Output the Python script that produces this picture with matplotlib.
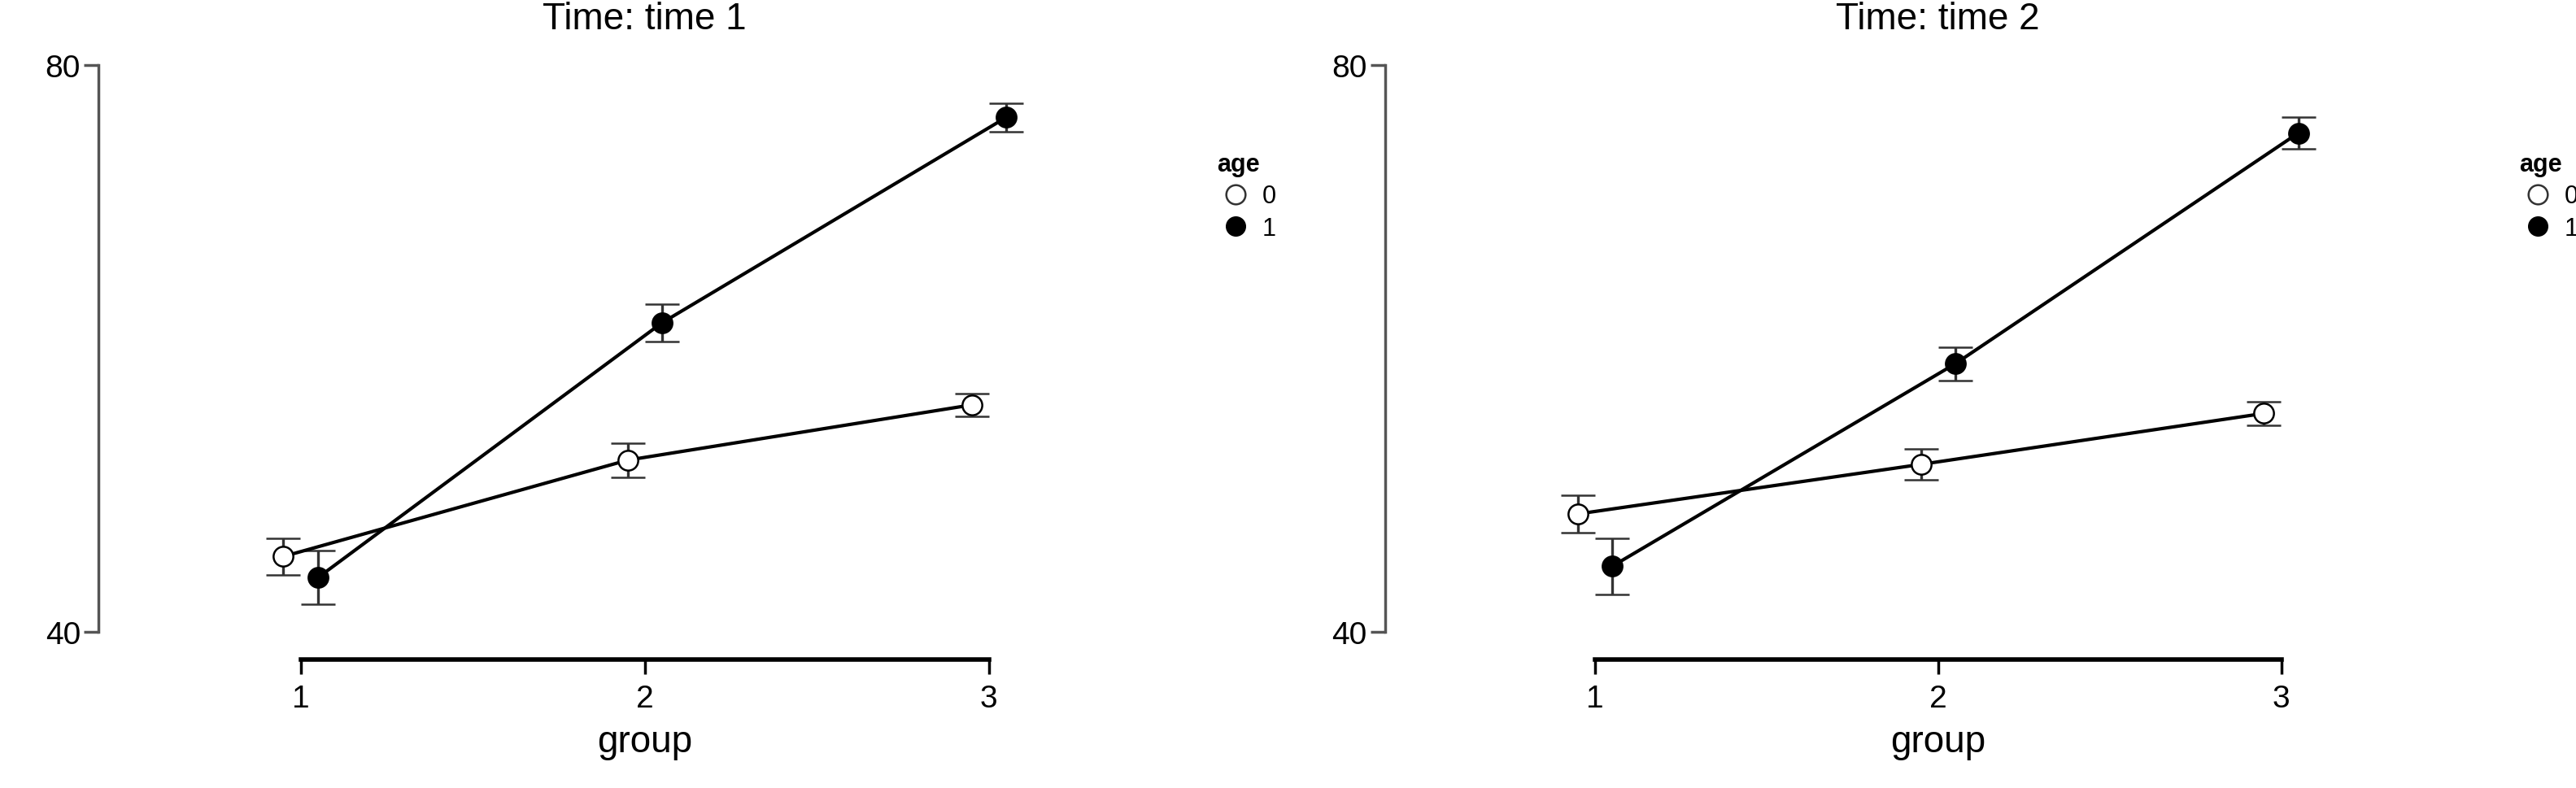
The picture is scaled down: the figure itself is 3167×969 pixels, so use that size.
import matplotlib
matplotlib.use("Agg")
from matplotlib import pyplot as plt
from matplotlib.lines import Line2D

plt.rcParams['font.family'] = ['Liberation Sans', 'DejaVu Sans']

groups = [1, 2, 3]
titles = ["Time: time 1", "Time: time 2"]

# means and error half-widths, per time panel
age0_mean = [[45.3, 52.1, 56.0], [48.3, 51.8, 55.4]]
age0_err = [[1.3, 1.2, 0.8], [1.3, 1.1, 0.85]]
age1_mean = [[43.8, 61.8, 76.3], [44.6, 58.9, 75.2]]
age1_err = [[1.9, 1.3, 1.0], [2.0, 1.2, 1.1]]

dodge = 0.05

fig = plt.figure(figsize=(31.67, 9.70), dpi=100)
axes_pos = [[0.0383, 0.1625, 0.3603, 0.763], [0.5376, 0.1625, 0.3626, 0.763]]
xlims = [(0.413, 3.11), (0.388, 3.11)]
legend_pos = [(0.4725, 0.806), (0.978, 0.806)]

for k in range(2):
    ax = fig.add_axes(axes_pos[k])
    x0 = [g - dodge for g in groups]
    x1 = [g + dodge for g in groups]
    ax.errorbar(x0, age0_mean[k], yerr=age0_err[k], color='black', lw=3,
                ecolor='#333333', elinewidth=2.4, capsize=15, capthick=2.4,
                marker='o', ms=17.5, mfc='white', mec='black', mew=1.8, zorder=3)
    ax.errorbar(x1, age1_mean[k], yerr=age1_err[k], color='black', lw=3,
                ecolor='#333333', elinewidth=2.4, capsize=15, capthick=2.4,
                marker='o', ms=17.5, mfc='black', mec='black', mew=1.8, zorder=3)
    ax.set_xlim(*xlims[k])
    ax.set_ylim(38.0, 80.5)
    ax.set_xticks(groups)
    ax.set_yticks([40, 80])
    for s in ['top', 'right']:
        ax.spines[s].set_visible(False)
    ax.spines['left'].set_bounds(40, 80)
    ax.spines['left'].set_color('#555555')
    ax.spines['left'].set_linewidth(2.5)
    ax.spines['bottom'].set_bounds(1, 3)
    ax.spines['bottom'].set_linewidth(4)
    ax.tick_params(axis='y', length=13, width=2.5, color='#555555', labelsize=28, pad=3)
    ax.tick_params(axis='x', length=13, width=2.5, labelsize=28, pad=8)

    # title and x label sit over the middle of the group axis
    mid = (2 - xlims[k][0]) / (xlims[k][1] - xlims[k][0])
    ax.set_xlabel("group", fontsize=33, labelpad=10)
    ax.xaxis.label.set_x(mid)
    ax.set_title(titles[k], fontsize=33, pad=26, x=mid)

    handles = [
        Line2D([], [], ls='none', marker='o', ms=17, mfc='white', mec='#333333', mew=1.8, label='0'),
        Line2D([], [], ls='none', marker='o', ms=17, mfc='black', mec='black', label='1'),
    ]
    leg = fig.legend(handles=handles, title='age', loc='upper left',
                     bbox_to_anchor=legend_pos[k], frameon=False, fontsize=22,
                     title_fontproperties={'weight': 'bold', 'size': 22},
                     handlelength=1.5, handletextpad=0.3, labelspacing=0.3,
                     borderpad=0, borderaxespad=0)
    leg._legend_box.align = 'left'

fig.savefig("out.png", dpi=100)
